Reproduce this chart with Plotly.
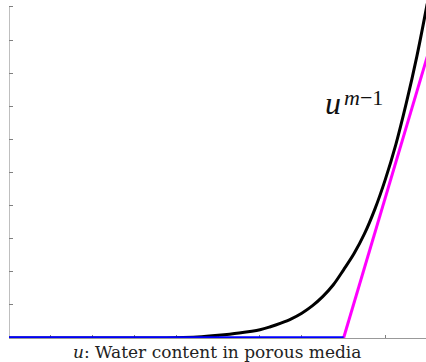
import plotly.graph_objects as go

# Data
curve_x = [0, 1, 2, 3, 4, 4.5, 5, 5.5, 6, 6.25, 6.5, 6.75, 7, 7.25, 7.5, 7.75,
           8, 8.25, 8.5, 8.75, 9, 9.25, 9.5, 9.75, 10]
curve_y = [0, 0, 0, 0, 0.01, 0.03, 0.08, 0.15, 0.25, 0.34, 0.45, 0.58, 0.75, 0.97, 1.25, 1.6,
           2.06, 2.55, 3.15, 3.9, 4.8, 5.85, 7.1, 8.5, 10.1]
blue_x = [0, 8]
blue_y = [0, 0]
mag_x = [8, 10]
mag_y = [0, 8.5]
x_ticks = list(range(0, 11))
y_ticks = list(range(0, 11))
label_base = "<i>u</i>"
label_sup = "<i>m</i>−1"
x_label = "<i>u</i>: Water content in porous media"

fig = go.Figure()
fig.add_trace(go.Scatter(x=curve_x, y=curve_y, mode="lines",
                         line=dict(color="black", width=3, shape="spline", smoothing=1.0)))
fig.add_trace(go.Scatter(x=mag_x, y=mag_y, mode="lines",
                         line=dict(color="#ff00ff", width=3)))
fig.add_trace(go.Scatter(x=blue_x, y=blue_y, mode="lines",
                         line=dict(color="#0000ff", width=3.5)))

fig.add_shape(type="line", x0=0, x1=0, y0=0, y1=10, xref="x", yref="y",
              line=dict(color="#808080", width=1), layer="below")

# u^{m-1} label: base and superscript as two texts
fig.add_annotation(x=7.5, y=7.1, xref="x", yref="y", text=label_base, showarrow=False,
                   xanchor="left", yanchor="middle",
                   font=dict(family="Liberation Serif", size=32, color="#111"))
fig.add_annotation(x=7.96, y=7.25, xref="x", yref="y", text=label_sup, showarrow=False,
                   xanchor="left", yanchor="middle",
                   font=dict(family="Liberation Serif", size=22, color="#111"))

fig.add_annotation(x=0.4988, y=0, xref="paper", yref="paper", yshift=-2, text=x_label,
                   showarrow=False, xanchor="center", yanchor="top",
                   font=dict(family="DejaVu Serif", size=17, color="#222"))

fig.update_xaxes(range=[0, 9.97], tickvals=x_ticks, showticklabels=False,
                 ticks="inside", ticklen=3, tickcolor="#808080", tickwidth=1,
                 showline=True, linecolor="#999999", linewidth=1,
                 showgrid=False, zeroline=False, layer="below traces")
fig.update_yaxes(range=[0, 10.21], tickvals=y_ticks, showticklabels=False,
                 ticks="inside", ticklen=4, tickcolor="#808080", tickwidth=1,
                 showline=False, showgrid=False, zeroline=False, layer="below traces")

fig.update_layout(width=426, height=362, autosize=False,
                  margin=dict(l=9, r=0, t=0, b=24, pad=0),
                  paper_bgcolor="white", plot_bgcolor="white", showlegend=False)

fig.write_html("out.html")
